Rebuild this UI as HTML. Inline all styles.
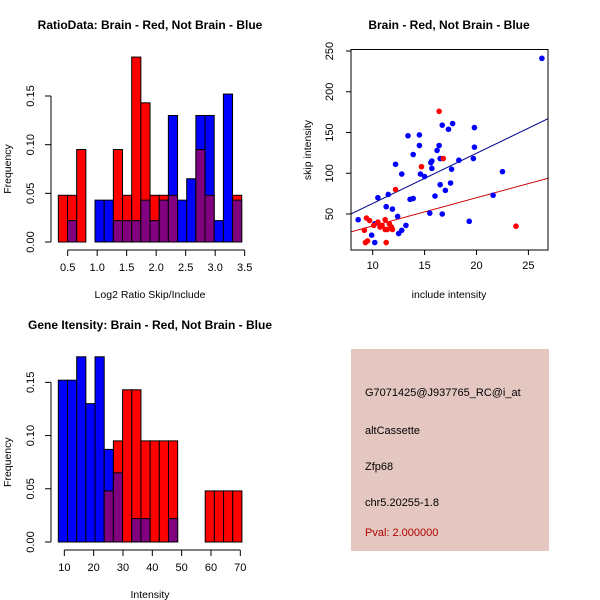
<!DOCTYPE html>
<html><head><meta charset="utf-8"><style>
body{margin:0;background:#fff}
svg{display:block;font-family:"Liberation Sans",sans-serif}
</style></head><body>
<svg id="c" width="600" height="600" viewBox="0 0 600 600">
<rect width="600" height="600" fill="#fff"/>
<g>
<rect x="351" y="349" width="198" height="202" fill="#E5C7C1"/>
<text x="365" y="396" font-size="11">G7071425@J937765_RC@i_at</text>
<text x="365" y="434" font-size="11">altCassette</text>
<text x="365" y="470" font-size="11">Zfp68</text>
<text x="365" y="506" font-size="11">chr5.20255-1.8</text>
<text x="365" y="536" font-size="11" fill="#B00000">Pval: 2.000000</text>
</g>
</svg>
<script>
// Ratio histogram data
const ratioBinStart = 0.342, ratioBinWidth = 0.1554;
const ratioRed  = [0.048,0.048,0.095,0,0,0,0.095,0.048,0.19,0.143,0.048,0.048,0.048,0,0,0.095,0.048,0,0,0.048];
const ratioBlue = [0,0.022,0,0,0.043,0.043,0.022,0.022,0.022,0.043,0.022,0.043,0.13,0.043,0.065,0.13,0.13,0.022,0.152,0.043];
const ratioXTicks = [0.5,1.0,1.5,2.0,2.5,3.0,3.5];
const ratioYTicks = [0,0.05,0.10,0.15];
// Intensity histogram data
const intBinStart = 7.95, intBinWidth = 3.13;
const intRed  = [0,0,0,0,0,0.048,0.095,0.143,0.143,0.095,0.095,0.095,0.095,0,0,0,0.048,0.048,0.048,0.048];
const intBlue = [0.152,0.152,0.174,0.13,0.174,0.087,0.065,0,0.022,0.022,0,0,0.022,0,0,0,0,0,0,0];
const intXTicks = [10,20,30,40,50,60,70];
const intYTicks = [0,0.05,0.10,0.15];
// Scatter data
const blueX = [8.6,26.3,10.5,11.5,11.3,11.9,12.4,12.2,12.8,13.4,13.9,13.6,13.9,14.5,14.5,14.6,15.0,15.6,15.7,15.7,16.0,16.2,16.4,16.5,16.5,16.7,16.7,17.0,17.3,17.7,17.5,17.6,18.3,15.5,19.8,19.8,19.7,19.3,21.6,22.5,9.9,10.2,10.2,12.5,12.8,13.2];
const blueY = [43,241,70,74,59,56,47,111,99,146,123,68,69,147,134,99,96,113,115,106,72,128,134,118,86,159,50,79,154,161,88,105,116,51,156,132,118,41,73,102,24,15,38,26,30,36];
const redX = [9.2,9.3,9.5,9.4,9.7,10.1,10.5,10.7,10.9,11.2,11.2,11.3,11.4,11.6,11.8,11.9,12.2,14.7,16.4,16.8,23.8];
const redY = [30,15,17,45,42,36,40,34,36,43,31,15,31,38,34,31,80,108,176,118,35];
const blueFit = [1.3, 6.16]; // intercept, slope
const redFit = [0.6, 3.47];
const scXTicks = [10,15,20,25];
const scYTicks = [50,100,150,200,250];

const svg = document.getElementById('c');
const NS = 'http://www.w3.org/2000/svg';
function mk(tag, attrs, parent){
  const e = document.createElementNS(NS, tag);
  for (const k in attrs) e.setAttribute(k, attrs[k]);
  (parent||svg).appendChild(e);
  return e;
}
function txt(x,y,s,size,opt,parent){
  const t = mk('text', Object.assign({x:x,y:y,'font-size':size,'text-anchor':'middle'},opt||{}), parent);
  t.textContent = s;
  return t;
}

function histogram(name, title, xlab, red, blue, bs, bw, xTicks, yTicks, sx, sy, tickY, titleY, xlabY){
  const g = mk('g', {});
  
  
  const y0 = sy(0);
  for (let i=0;i<red.length;i++){
    const x1 = sx(bs+i*bw), x2 = sx(bs+(i+1)*bw);
    const r = red[i], b = blue[i];
    const hi = Math.max(r,b), lo = Math.min(r,b);
    if (hi>0){
      const bar = mk('rect', {x:x1,y:sy(hi),width:x2-x1,height:y0-sy(hi),fill:r>=b?'#FF0000':'#0000FF',stroke:'#000','stroke-width':1}, g);
      
      
    }
    if (lo>0){
      const ov = mk('rect', {x:x1,y:sy(lo),width:x2-x1,height:y0-sy(lo),fill:'#800080',stroke:'#000','stroke-width':1}, g);
      
      
    }
  }
  const xa = mk('g', {}, g);
  
  
  mk('line', {x1:sx(xTicks[0]),x2:sx(xTicks[xTicks.length-1]),y1:tickY,y2:tickY,stroke:'#000'}, xa);
  xTicks.forEach(v=>{
    mk('line',{x1:sx(v),x2:sx(v),y1:tickY,y2:tickY+6,stroke:'#000'},xa);
    const t = txt(sx(v), tickY+21, xTicks.some(q=>q%1!==0)? v.toFixed(1): String(v), 11, {}, xa);
    
    
  });
  const AX = 51;
  const ya = mk('g', {}, g);
  
  
  mk('line', {x1:AX,x2:AX,y1:sy(yTicks[0]),y2:sy(yTicks[yTicks.length-1]),stroke:'#000'}, ya);
  yTicks.forEach(v=>{
    mk('line',{x1:AX-6,x2:AX,y1:sy(v),y2:sy(v),stroke:'#000'},ya);
    const t = txt(34, sy(v), v.toFixed(2), 11, {transform:'rotate(-90 34 '+sy(v)+')'}, ya);
    
    
  });
  const tt = txt(150, titleY, title, 12, {'font-weight':'bold'}, g);
  
  
  const xl = txt(150, xlabY, xlab, 10.5, {}, g);
  
  
  const cy = sy(yTicks[0]) - (sy(yTicks[0])-sy(yTicks[yTicks.length-1]))/2;
  const yl = txt(11, cy, 'Frequency', 10.5, {transform:'rotate(-90 11 '+cy+')'}, g);
  
  
}

histogram('ratio-histogram','RatioData: Brain - Red, Not Brain - Blue','Log2 Ratio Skip/Include',
  ratioRed, ratioBlue, ratioBinStart, ratioBinWidth, ratioXTicks, ratioYTicks,
  v=>67.67+(v-0.5)*59.0, v=>242-v*973.3, 250, 29, 298);
histogram('intensity-histogram','Gene Itensity: Brain - Red, Not Brain - Blue','Intensity',
  intRed, intBlue, intBinStart, intBinWidth, intXTicks, intYTicks,
  v=>64.33+(v-10)*2.933, v=>542-v*1064.4, 550, 329, 598);

(function(){
  const g = mk('g', {});
  
  
  const sx = v=>372.7+(v-10)*10.38;
  const sy = v=>214-(v-50)*0.815;
  const L=351,R=548,T=49.5,B=250;
  const clip = mk('clipPath',{id:'sc'},g);
  mk('rect',{x:L,y:T,width:R-L,height:B-T},clip);
  const lg = mk('g',{'clip-path':'url(#sc)'},g);
  const xa0=7.5, xa1=28;
  const bl = mk('line',{x1:sx(xa0),y1:sy(blueFit[0]+blueFit[1]*xa0),x2:sx(xa1),y2:sy(blueFit[0]+blueFit[1]*xa1),stroke:'#00008B','stroke-width':1},lg);
  
  
  const rl = mk('line',{x1:sx(xa0),y1:sy(redFit[0]+redFit[1]*xa0),x2:sx(xa1),y2:sy(redFit[0]+redFit[1]*xa1),stroke:'#CC0000','stroke-width':1},lg);
  
  
  blueX.forEach((x,i)=>{
    const c = mk('circle',{cx:sx(x),cy:sy(blueY[i]),r:2.8,fill:'#0000FF'},g);
    
    
  });
  redX.forEach((x,i)=>{
    const c = mk('circle',{cx:sx(x),cy:sy(redY[i]),r:2.8,fill:'#FF0000'},g);
    
    
  });
  mk('rect',{x:L,y:T,width:R-L,height:B-T,fill:'none',stroke:'#000'},g);
  scXTicks.forEach(v=>{
    mk('line',{x1:sx(v),x2:sx(v),y1:B,y2:B+5,stroke:'#000'},g);
    const t = txt(sx(v),B+19,String(v),11,{},g);
    
    
  });
  scYTicks.forEach(v=>{
    mk('line',{x1:L-5,x2:L,y1:sy(v),y2:sy(v),stroke:'#000'},g);
    const t = txt(L-18,sy(v),String(v),11,{transform:'rotate(-90 '+(L-18)+' '+sy(v)+')'},g);
    
    
  });
  const tt = txt(449,29,'Brain - Red, Not Brain - Blue',12,{'font-weight':'bold'},g);
  
  
  const xl = txt(449,298,'include intensity',10.5,{},g);
  
  
  const yl = txt(311,150,'skip intensity',10.5,{transform:'rotate(-90 311 150)'},g);
  
  
})();
</script>
</body></html>
